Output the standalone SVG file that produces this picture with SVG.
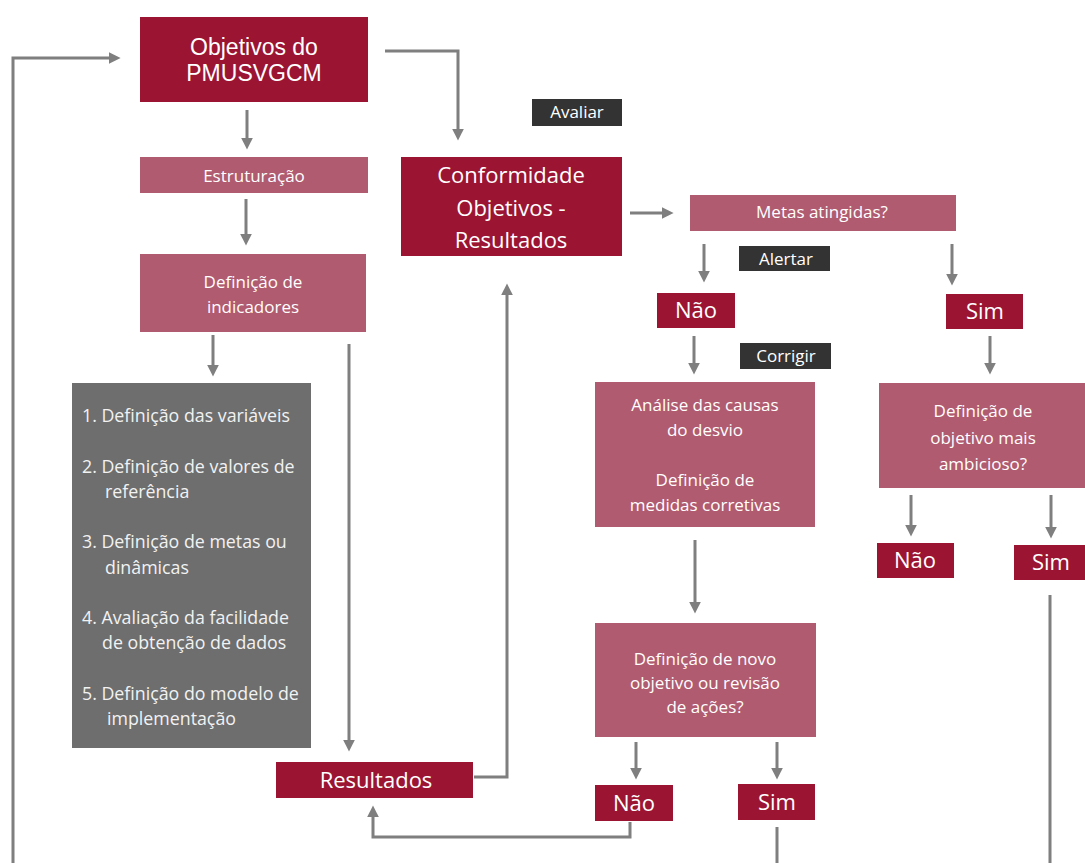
<svg xmlns="http://www.w3.org/2000/svg" width="1085" height="863" viewBox="0 0 1085 863">
<style>
.dark{fill:#9b1533}
.pink{fill:#b05b6f}
.grey{fill:#6e6e6e}
.tag{fill:#333333}
.t{font-family:"Open Sans","Noto Sans",sans-serif;fill:#ffffff;text-anchor:middle}
.ta{font-family:"Liberation Sans",Arial,sans-serif;fill:#ffffff;text-anchor:middle;font-size:23px}
.s17{font-size:17px}
.s22{font-size:22px}
.gl{font-family:"Open Sans","Noto Sans",sans-serif;fill:#f2f2f2;font-size:17.8px}
.c{fill:none;stroke:#7f7f7f;stroke-width:3}
</style>
<defs>
<marker id="ah" viewBox="0 0 10 10" refX="2" refY="5" markerWidth="4" markerHeight="4" orient="auto">
<path d="M0,0 L10,5 L0,10 z" fill="#7f7f7f"/>
</marker>
</defs>
<rect width="1085" height="863" fill="#ffffff"/>
<g id="connectors">
<path class="c" d="M13,863 V58 H111" marker-end="url(#ah)"/>
<path class="c" d="M247,110 V140" marker-end="url(#ah)"/>
<path class="c" d="M246,199 V236" marker-end="url(#ah)"/>
<path class="c" d="M213,335 V367" marker-end="url(#ah)"/>
<path class="c" d="M349,344 V742" marker-end="url(#ah)"/>
<path class="c" d="M474,777 H507 V293" marker-end="url(#ah)"/>
<path class="c" d="M385,51 H458 V131" marker-end="url(#ah)"/>
<path class="c" d="M630,213 H664" marker-end="url(#ah)"/>
<path class="c" d="M704,244 V273" marker-end="url(#ah)"/>
<path class="c" d="M952,244 V276" marker-end="url(#ah)"/>
<path class="c" d="M694,336 V365" marker-end="url(#ah)"/>
<path class="c" d="M990,336 V365" marker-end="url(#ah)"/>
<path class="c" d="M695,540 V604" marker-end="url(#ah)"/>
<path class="c" d="M911,495 V527" marker-end="url(#ah)"/>
<path class="c" d="M1051,495 V529" marker-end="url(#ah)"/>
<path class="c" d="M636,742 V770" marker-end="url(#ah)"/>
<path class="c" d="M777,742 V770" marker-end="url(#ah)"/>
<path class="c" d="M630,822 V837 H373 V815" marker-end="url(#ah)"/>
<path class="c" d="M777,827 V863"/>
<path class="c" d="M1050,595 V863"/>
</g>
<g id="objetivos">
<rect class="dark" x="140" y="17" width="228" height="85"/>
<text class="ta" x="254" y="55">Objetivos do</text>
<text class="ta" x="254" y="81">PMUSVGCM</text>
</g>
<g id="estruturacao">
<rect class="pink" x="140" y="157" width="228" height="36"/>
<text class="t s17" x="254" y="182">Estruturação</text>
</g>
<g id="definicao-indicadores">
<rect class="pink" x="140" y="254" width="226" height="78"/>
<text class="t s17" x="253" y="288">Definição de</text>
<text class="t s17" x="253" y="313">indicadores</text>
</g>
<g id="lista">
<rect class="grey" x="72" y="383" width="239" height="365"/>
<text class="gl" x="82" y="422">1. Definição das variáveis</text>
<text class="gl" x="82" y="473">2. Definição de valores de</text>
<text class="gl" x="105" y="498">referência</text>
<text class="gl" x="82" y="548">3. Definição de metas ou</text>
<text class="gl" x="105" y="574">dinâmicas</text>
<text class="gl" x="82" y="624">4. Avaliação da facilidade</text>
<text class="gl" x="102" y="649">de obtenção de dados</text>
<text class="gl" x="82" y="700">5. Definição do modelo de</text>
<text class="gl" x="107" y="725">implementação</text>
</g>
<g id="resultados">
<rect class="dark" x="276" y="762" width="197" height="36"/>
<text class="t s22" x="376" y="788">Resultados</text>
</g>
<g id="avaliar">
<rect class="tag" x="532" y="99" width="90" height="27"/>
<text class="t s17" x="577" y="118">Avaliar</text>
</g>
<g id="conformidade">
<rect class="dark" x="401" y="157" width="221" height="99"/>
<text class="t s22" x="511" y="183">Conformidade</text>
<text class="t s22" x="511" y="216">Objetivos -</text>
<text class="t s22" x="511" y="248">Resultados</text>
</g>
<g id="metas">
<rect class="pink" x="690" y="195" width="266" height="36"/>
<text class="t s17" x="822" y="218">Metas atingidas?</text>
</g>
<g id="alertar">
<rect class="tag" x="739" y="246" width="91" height="25"/>
<text class="t s17" x="786" y="265">Alertar</text>
</g>
<g id="nao1">
<rect class="dark" x="657" y="293" width="78" height="35"/>
<text class="t s22" x="696" y="318">Não</text>
</g>
<g id="sim1">
<rect class="dark" x="946" y="294" width="77" height="35"/>
<text class="t s22" x="985" y="319">Sim</text>
</g>
<g id="corrigir">
<rect class="tag" x="740" y="343" width="91" height="26"/>
<text class="t s17" x="786" y="362">Corrigir</text>
</g>
<g id="analise">
<rect class="pink" x="595" y="382" width="220" height="145"/>
<text class="t s17" x="705" y="411">Análise das causas</text>
<text class="t s17" x="705" y="436">do desvio</text>
<text class="t s17" x="705" y="486">Definição de</text>
<text class="t s17" x="705" y="511">medidas corretivas</text>
</g>
<g id="objetivo-ambicioso">
<rect class="pink" x="879" y="383" width="206" height="105"/>
<text class="t s17" x="983" y="417">Definição de</text>
<text class="t s17" x="983" y="444">objetivo mais</text>
<text class="t s17" x="983" y="470">ambicioso?</text>
</g>
<g id="nao2">
<rect class="dark" x="877" y="543" width="77" height="35"/>
<text class="t s22" x="915" y="568">Não</text>
</g>
<g id="sim2">
<rect class="dark" x="1014" y="545" width="71" height="35"/>
<text class="t s22" x="1051" y="570">Sim</text>
</g>
<g id="novo-objetivo">
<rect class="pink" x="595" y="623" width="221" height="114"/>
<text class="t s17" x="705" y="665">Definição de novo</text>
<text class="t s17" x="705" y="689">objetivo ou revisão</text>
<text class="t s17" x="705" y="713">de ações?</text>
</g>
<g id="nao3">
<rect class="dark" x="595" y="785" width="78" height="36"/>
<text class="t s22" x="634" y="811">Não</text>
</g>
<g id="sim3">
<rect class="dark" x="738" y="784" width="77" height="36"/>
<text class="t s22" x="777" y="810">Sim</text>
</g>
</svg>
